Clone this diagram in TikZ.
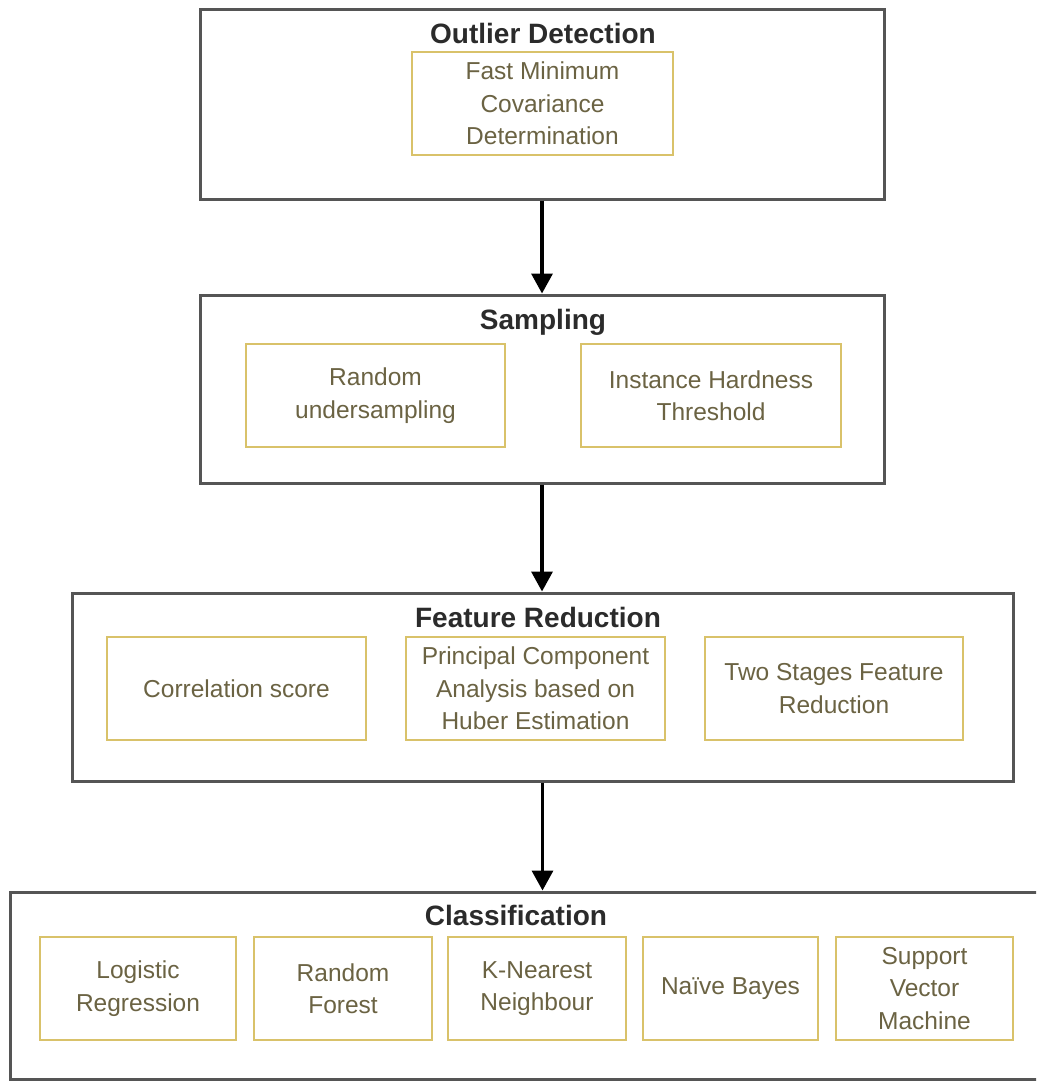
\documentclass[tikz,border=0pt]{standalone}
\usepackage{fontspec}
\setmainfont{Liberation Sans}
\usetikzlibrary{arrows.meta}
\definecolor{outerc}{HTML}{555555}
\definecolor{goldc}{HTML}{D9C26A}
\definecolor{olivec}{HTML}{6B6343}
\definecolor{titlec}{HTML}{2B2B2B}
\begin{document}
\begin{tikzpicture}[x=1pt,y=-1pt,
  outerbox/.style={draw=outerc, line width=3pt, rectangle, inner sep=0pt, fill=white},
  innerbox/.style={draw=goldc, line width=1.6pt, rectangle, inner sep=0pt, align=center,
     text=olivec, font=\fontsize{24.5}{32.5}\selectfont},
  titletext/.style={text=titlec, font=\fontsize{28}{30}\selectfont\bfseries, inner sep=0pt},
  arr/.style={line width=3.5pt, black, -{Triangle[width=21pt,length=20pt]}}]
\useasboundingbox (0,0) rectangle (1036,1081);
\clip (0,0) rectangle (1036,1081);
\fill[white] (0,0) rectangle (1036,1081);

% Outer boxes
\node[outerbox, minimum width=684pt, minimum height=189pt] (od) at (542,104.5) {};
\node[outerbox, minimum width=684pt, minimum height=188pt] (samp) at (542,389) {};
\node[outerbox, minimum width=941pt, minimum height=188pt] (fr) at (542.5,687) {};
\node[outerbox, minimum width=1035pt, minimum height=187pt] (cl) at (527.5,985.5) {};

% Titles
\node[titletext] (odt) at (543,33) {Outlier Detection};
\node[titletext] (sampt) at (543,322) {Sampling};
\node[titletext] (frt) at (538,617) {Feature Reduction};
\node[titletext] (clt) at (516,915) {Classification};

% Inner boxes
\node[innerbox, minimum width=261pt, minimum height=103pt] (fmcd) at (542.5,103.5) {Fast Minimum\\Covariance\\Determination};
\node[innerbox, minimum width=259pt, minimum height=103pt] (ru) at (375.5,395.5) {Random\\undersampling};
\node[innerbox, minimum width=260pt, minimum height=103pt] (iht) at (711,395.5) {Instance Hardness\\Threshold};
\node[innerbox, minimum width=259pt, minimum height=103pt] (cs) at (236.5,688.5) {Correlation score};
\node[innerbox, minimum width=259pt, minimum height=103pt] (pca) at (535.5,688.5) {Principal Component\\Analysis based on\\Huber Estimation};
\node[innerbox, minimum width=258pt, minimum height=103pt] (ts) at (834,688.5) {Two Stages Feature\\Reduction};
\node[innerbox, minimum width=196pt, minimum height=103pt] (lr) at (138,988.5) {Logistic\\Regression};
\node[innerbox, minimum width=178pt, minimum height=103pt] (rf) at (343,988.5) {Random\\Forest};
\node[innerbox, minimum width=178pt, minimum height=103pt] (knn) at (537,988.5) {K-Nearest\\Neighbour};
\node[innerbox, minimum width=175pt, minimum height=103pt] (nb) at (730.5,988.5) {Naïve Bayes};
\node[innerbox, minimum width=177pt, minimum height=103pt] (svm) at (924.5,988.5) {Support\\Vector\\Machine};

% Arrows
\draw[arr] (od.south) -- (samp.north);
\draw[arr] (samp.south) -- (samp.south |- fr.north);
\draw[arr] (fr.south) -- (fr.south |- cl.north);
\end{tikzpicture}
\end{document}
